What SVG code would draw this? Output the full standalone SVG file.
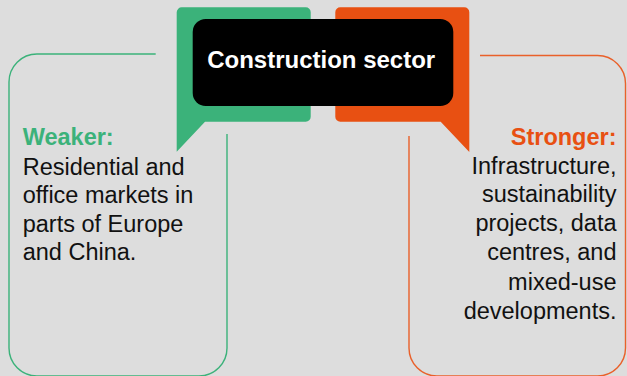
<svg xmlns="http://www.w3.org/2000/svg" width="627" height="376" viewBox="0 0 627 376">
  <style>
    .frame { fill: none; stroke-width: 1.4; }
    .body { font-family: "Liberation Sans", Arial, Helvetica, sans-serif; font-size: 23.5px; fill: #111111; }
    .head { font-family: "Liberation Sans", Arial, Helvetica, sans-serif; font-size: 23.5px; font-weight: bold; }
    .title { font-family: "Liberation Sans", Arial, Helvetica, sans-serif; font-size: 24px; font-weight: bold; fill: #ffffff; }
  </style>
  <rect x="0" y="0" width="627" height="376" fill="#dddddd"/>

  <!-- outlined panels (open at the corner nearest the speech bubble) -->
  <g id="connectors">
    <path class="frame" stroke="#3bb27a" d="M155.7,54 H37 A28,28 0 0 0 9,82 V348 A28,28 0 0 0 37,376 H199 A28,28 0 0 0 227,348 V134"/>
    <path class="frame" stroke="#e9602a" d="M480,55.5 H597.5 A28,28 0 0 1 625.5,83.5 V348 A28,28 0 0 1 597.5,376 H437 A28,28 0 0 1 409,348 V136"/>
  </g>

  <!-- speech bubbles behind the title -->
  <g id="bubble-weaker">
    <path fill="#3bb27a" d="M182,7.3 H305.7 A5,5 0 0 1 310.7,12.3 V116.7 A5,5 0 0 1 305.7,121.7 H205 L176.7,151.7 V12.3 A5,5 0 0 1 182,7.3 Z"/>
  </g>
  <g id="bubble-stronger">
    <path fill="#e85012" d="M340.3,7.3 H464.3 A5,5 0 0 1 469.3,12.3 V152 L440.7,121.7 H340.3 A5,5 0 0 1 335.3,116.7 V12.3 A5,5 0 0 1 340.3,7.3 Z"/>
  </g>

  <!-- title -->
  <g id="title">
    <rect x="192.7" y="19" width="260.6" height="87" rx="13" fill="#000000"/>
    <text class="title" x="321.2" y="67.5" text-anchor="middle">Construction sector</text>
  </g>

  <!-- left panel text -->
  <g id="weaker">
    <text class="head" x="22.7" y="145" fill="#3bb27a">Weaker:</text>
    <text class="body" x="22.7" y="174.8">Residential and</text>
    <text class="body" x="22.7" y="203.3">office markets in</text>
    <text class="body" x="22.7" y="231.8">parts of Europe</text>
    <text class="body" x="22.7" y="260.3">and China.</text>
  </g>

  <!-- right panel text -->
  <g id="stronger">
    <text class="head" x="616.5" y="144.5" text-anchor="end" fill="#e85012">Stronger:</text>
    <text class="body" x="616.5" y="173.5" text-anchor="end">Infrastructure,</text>
    <text class="body" x="616.5" y="202.3" text-anchor="end">sustainability</text>
    <text class="body" x="616.5" y="231.3" text-anchor="end">projects, data</text>
    <text class="body" x="616.5" y="260.4" text-anchor="end">centres, and</text>
    <text class="body" x="616.5" y="289.5" text-anchor="end">mixed-use</text>
    <text class="body" x="616.5" y="318.5" text-anchor="end">developments.</text>
  </g>
</svg>
